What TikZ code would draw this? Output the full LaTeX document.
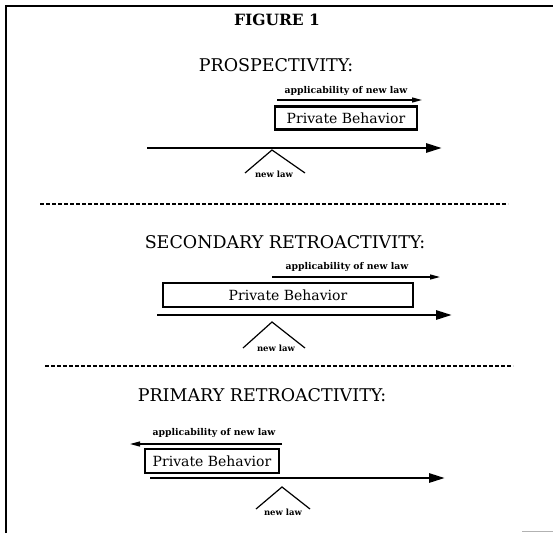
\documentclass[tikz,border=0pt]{standalone}
\usepackage{fontspec}
\setmainfont{DejaVu Serif}
\usetikzlibrary{arrows.meta}
\begin{document}
\begin{tikzpicture}[x=1pt,y=-1pt,
  figt/.style={font=\bfseries\fontsize{15.5}{15.5}\selectfont, inner sep=0pt},
  titletext/.style={font=\fontsize{17.5}{17.5}\selectfont, inner sep=0pt},
  appl/.style={font=\bfseries\fontsize{9.3}{9.3}\selectfont, inner sep=0pt},
  newlaw/.style={font=\bfseries\fontsize{8.5}{8.5}\selectfont, inner sep=0pt},
  pbox/.style={draw, line width=2.5pt, inner sep=0pt, font=\fontsize{14}{14}\selectfont},
  applarrow/.style={line width=1.3pt, -{Triangle[length=10pt,width=5pt]}},
  mainarrow/.style={line width=2.8pt, -{Triangle[length=16pt,width=9pt]}},
  trileg/.style={line width=1.2pt, line join=miter},
  sep/.style={line width=1.4pt, dash pattern=on 4pt off 2pt}
]
\useasboundingbox (0,0) rectangle (553,533);
\fill[white] (0,0) rectangle (553,533);

% frame
\coordinate (fbl) at (6,533);
\coordinate (ftl) at (6,6);
\coordinate (ftr) at (553,6);
\draw[line width=2.4pt] (fbl) -- (ftl) -- (ftr);
\coordinate (g1) at (522,531);
\coordinate (g2) at (553,531);
\draw[gray!60, line width=1pt] (g1) -- (g2);

% ---------- section 1 ----------
\node[figt] (fig) at (277,20) {FIGURE 1};
\node[titletext] (t1) at (276,65) {PROSPECTIVITY:};
\node[appl] (a1) at (346,91) {applicability of new law};
\coordinate (a1s) at (277,100);
\coordinate (a1e) at (422,100);
\draw[applarrow] (a1s) -- (a1e);
\node[pbox, minimum width=142pt, minimum height=23pt] (b1) at (346,118) {Private Behavior};
\coordinate (m1s) at (147,148);
\coordinate (m1e) at (442,148);
\draw[mainarrow] (m1s) -- (m1e);
\coordinate (p1) at (272,150);
\coordinate (l1) at (245,173);
\coordinate (r1) at (305,173);
\draw[trileg] (l1) -- (p1) -- (r1);
\node[newlaw] (n1) at (274,174) {new law};

% separator 1
\coordinate (s1a) at (40,204);
\coordinate (s1b) at (508,204);
\draw[sep] (s1a) -- (s1b);

% ---------- section 2 ----------
\node[titletext] (t2) at (285,242) {SECONDARY RETROACTIVITY:};
\node[appl] (a2) at (347,267) {applicability of new law};
\coordinate (a2s) at (272,277);
\coordinate (a2e) at (440,277);
\draw[applarrow] (a2s) -- (a2e);
\node[pbox, minimum width=250pt, minimum height=24pt] (b2) at (288,295) {Private Behavior};
\coordinate (m2s) at (157,315);
\coordinate (m2e) at (452,315);
\draw[mainarrow] (m2s) -- (m2e);
\coordinate (p2) at (272,322);
\coordinate (l2) at (243,348);
\coordinate (r2) at (305,348);
\draw[trileg] (l2) -- (p2) -- (r2);
\node[newlaw] (n2) at (276,348) {new law};

% separator 2
\coordinate (s2a) at (45,366);
\coordinate (s2b) at (513,366);
\draw[sep] (s2a) -- (s2b);

% ---------- section 3 ----------
\node[titletext] (t3) at (262,395) {PRIMARY RETROACTIVITY:};
\node[appl] (a3) at (214,433) {applicability of new law};
\coordinate (a3s) at (282,444);
\coordinate (a3e) at (130,444);
\draw[applarrow] (a3s) -- (a3e);
\node[pbox, minimum width=134pt, minimum height=24pt] (b3) at (212,461) {Private Behavior};
\coordinate (m3s) at (150,478);
\coordinate (m3e) at (445,478);
\draw[mainarrow] (m3s) -- (m3e);
\coordinate (p3) at (282,487);
\coordinate (l3) at (256,509);
\coordinate (r3) at (310,509);
\draw[trileg] (l3) -- (p3) -- (r3);
\node[newlaw] (n3) at (283,512) {new law};
\end{tikzpicture}
\end{document}
